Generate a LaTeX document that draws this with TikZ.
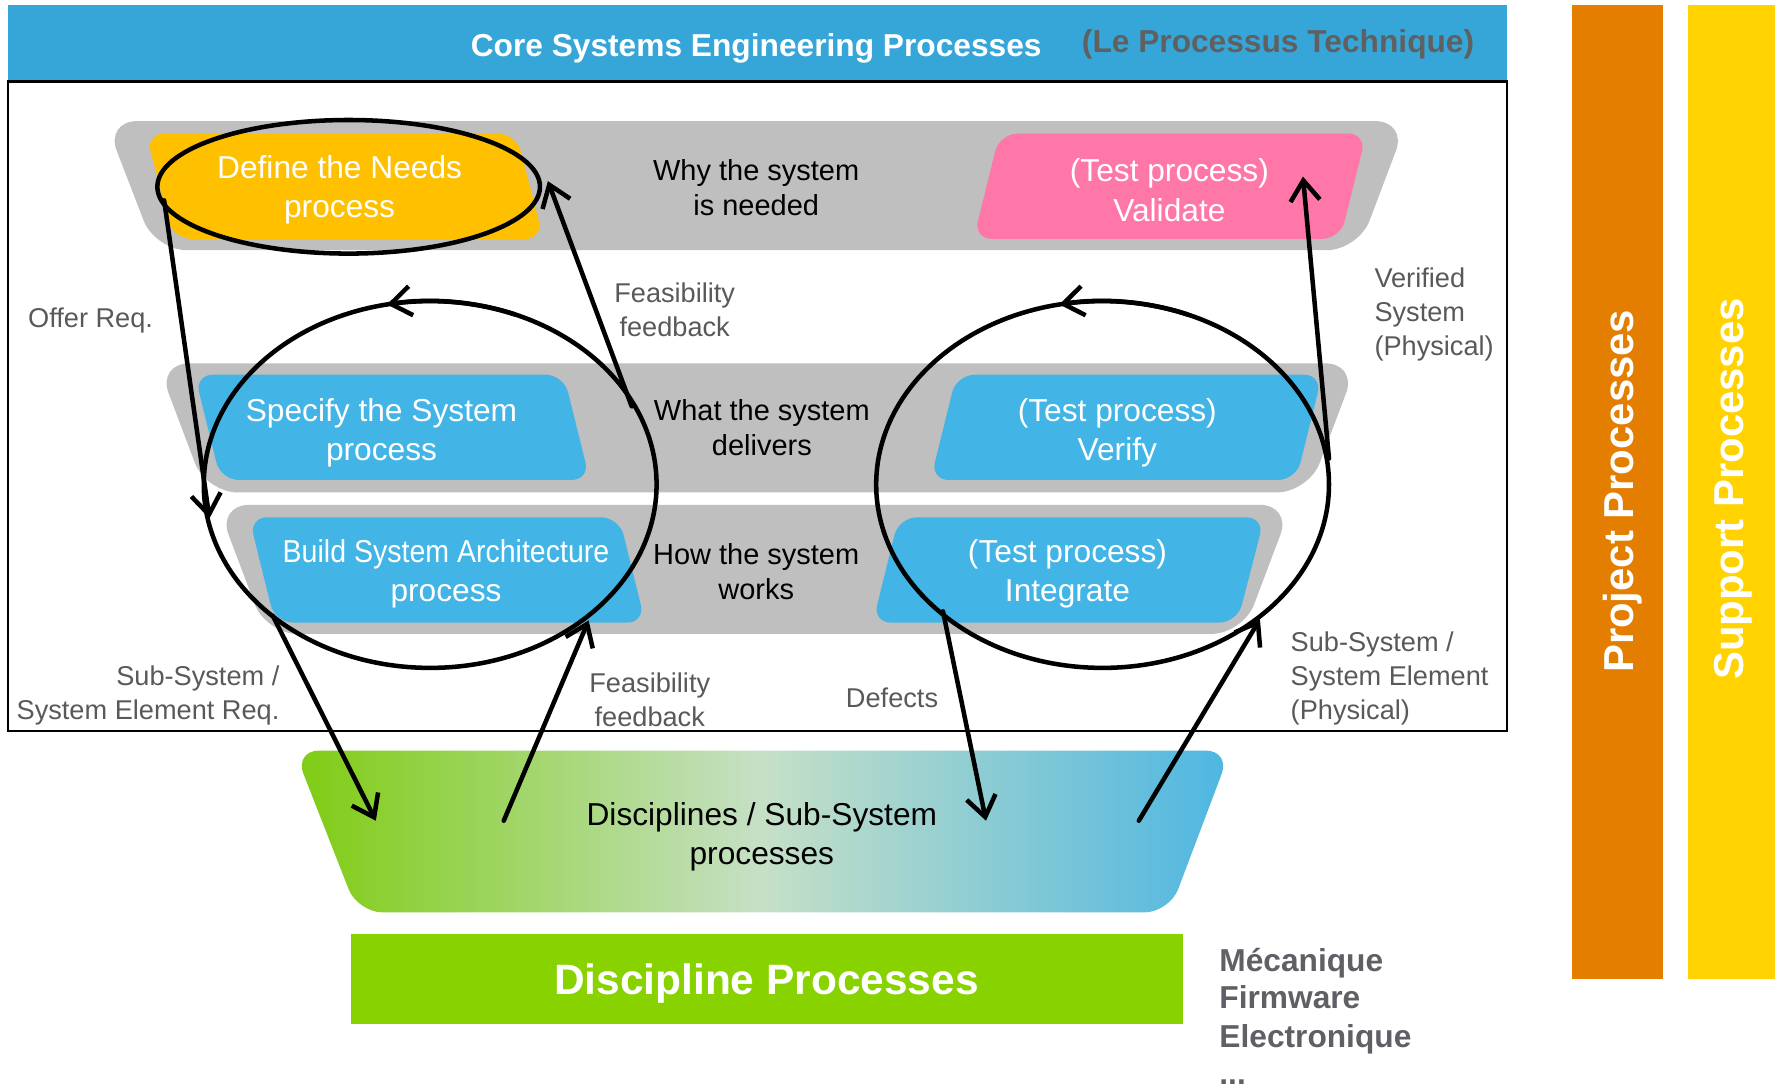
\documentclass[tikz,border=0pt]{standalone}
\usepackage{fontspec}
\setmainfont{Liberation Sans}
\usepackage{graphicx}
\usetikzlibrary{arrows.meta,calc}
\definecolor{hdrblue}{HTML}{36A6D9}
\definecolor{bandgray}{HTML}{BFBFBF}
\definecolor{boxblue}{HTML}{42B4E6}
\definecolor{needorange}{HTML}{FFC000}
\definecolor{valpink}{HTML}{FF77A8}
\definecolor{projorange}{HTML}{E37E00}
\definecolor{supyellow}{HTML}{FFD200}
\definecolor{discgreen}{HTML}{88D200}
\definecolor{labelgray}{HTML}{595959}
\definecolor{ttlgray}{HTML}{606060}
\definecolor{listgray}{HTML}{5F6066}
\definecolor{gradgreen}{HTML}{7FCC12}
\definecolor{gradmid}{HTML}{C6E0C6}
\definecolor{gradblue}{HTML}{4DB6E2}
\begin{document}
\begin{tikzpicture}[x=1pt,y=-1pt,
  band/.style={fill=bandgray, rounded corners=28pt},
  procbox/.style={rounded corners=16pt},
  boxtext/.style={text=white, align=center, font=\fontsize{28}{34.5}\selectfont, inner sep=0pt},
  bandtext/.style={text=black, align=center, font=\fontsize{25.6}{31}\selectfont, inner sep=0pt},
  lbl/.style={text=labelgray, font=\fontsize{24}{30}\selectfont, inner sep=0pt},
  ringline/.style={draw=black, line width=4pt},
  flowarrow/.style={draw=black, line width=4pt, line cap=round, -{Straight Barb[length=18pt,width=26pt]}},
  bartext/.style={text=white, rotate=90, font=\bfseries\fontsize{37}{40}\selectfont, inner sep=0pt},
  listtext/.style={text=listgray, font=\bfseries\fontsize{28}{33}\selectfont, inner sep=0pt, anchor=base west},
  ]
\useasboundingbox (0,0) rectangle (1568,961);

% header and frame
\fill[hdrblue] (7,4) rectangle (1331,72);
\draw[line width=2pt] (7,72) rectangle (1331,646);
\node[text=white, font=\bfseries\fontsize{28}{34}\selectfont, inner sep=0pt] (title) at (668,43) {Core Systems Engineering Processes};
\node[text=ttlgray, font=\bfseries\fontsize{28}{34}\selectfont, inner sep=0pt] (subtitle) at (1129,39) {(Le Processus Technique)};

% side bars
\fill[projorange] (1389,4) rectangle (1469,865);
\fill[supyellow] (1491,4) rectangle (1575,865);
\node[bartext] (proj) at (1433,434) {Project Processes};
\node[bartext] (supp) at (1531,432) {Support Processes};

% gray bands
\fill[band] (93,107) -- (1243,107) -- (1200,221) -- (137,221) -- cycle;
\fill[band] (139,321) -- (1199,321) -- (1156,435) -- (182,435) -- cycle;
\fill[band] (192,446) -- (1141,446) -- (1098,560) -- (235,560) -- cycle;

% process boxes
\fill[procbox, needorange] (129,118) -- (456,118) -- (480,211) -- (153,211) -- cycle;
\fill[procbox, valpink] (883,118) -- (1207,118) -- (1184,211) -- (860,211) -- cycle;
\fill[procbox, boxblue] (172,331) -- (498,331) -- (521,424) -- (195,424) -- cycle;
\fill[procbox, boxblue] (845,331) -- (1168,331) -- (1145,424) -- (822,424) -- cycle;
\fill[procbox, boxblue] (220,457) -- (547,457) -- (570,550) -- (243,550) -- cycle;
\fill[procbox, boxblue] (794,457) -- (1117,457) -- (1093,550) -- (771,550) -- cycle;

\node[boxtext] (define) at (300,168) {Define the Needs\\process};
\node[boxtext] (validate) at (1033,168) {(Test process)\\Validate};
\node[boxtext] (specify) at (337,382) {Specify the System\\process};
\node[boxtext] (verify) at (987,382) {(Test process)\\Verify};
\node[boxtext] (build) at (394,507) {\scalebox{0.9}[1]{Build System Architecture}\\process};
\node[boxtext] (integrate) at (943,507) {(Test process)\\Integrate};

\node[bandtext] (why) at (668,166) {Why the system\\is needed};
\node[bandtext] (what) at (673,378) {What the system\\delivers};
\node[bandtext] (how) at (668,505) {How the system\\works};

% disciplines trapezoid
\path[rounded corners=22pt, left color=gradgreen, right color=gradblue, middle color=gradmid]
  (260,663) -- (1087,663) -- (1033,806) -- (316,806) -- cycle;
\node[text=black, align=center, font=\fontsize{28}{34}\selectfont, inner sep=0pt] (disc) at (673,739) {Disciplines / Sub-System\\processes};

\fill[discgreen] (310,825) rectangle (1045,905);
\node[text=white, font=\bfseries\fontsize{37.5}{40}\selectfont, inner sep=0pt] (discproc) at (677,869) {Discipline Processes};

\node[listtext] (meca) at (1077,858) {Mécanique};
\node[listtext] (firm) at (1077,891) {Firmware};
\node[listtext] (elec) at (1077,925) {Electronique};
\node[listtext] (dots) at (1077,958) {...};

% labels
\node[lbl] (offer) at (80,283) {Offer Req.};
\node[lbl, align=center] (fbtop) at (596,274) {Feasibility\\feedback};
\node[lbl, align=left, anchor=west] (verified) at (1214,278) {Verified\\System\\(Physical)};
\node[lbl, align=right, anchor=east] (subreq) at (247,614) {Sub-System /\\System Element Req.};
\node[lbl, align=center] (fbbot) at (574,618) {Feasibility\\feedback};
\node[lbl] (defects) at (788,616) {Defects};
\node[lbl, align=left, anchor=west] (subphys) at (1140,599) {Sub-System /\\System Element\\(Physical)};

% loops
\coordinate (needc) at (308,165);
\coordinate (leftc) at (380,428);
\coordinate (rightc) at (974,428);
\draw[ringline] (needc) ellipse [x radius=169, y radius=59];
\draw[ringline] (leftc) ellipse [x radius=200, y radius=162];
\draw[ringline] (rightc) ellipse [x radius=200, y radius=162];
\path (leftc) ++(292:200 and 162) coordinate (leftarcs);
\path (rightc) ++(292:200 and 162) coordinate (rightarcs);
\draw[flowarrow] (leftarcs) arc[start angle=292, end angle=259, x radius=200, y radius=162];
\draw[flowarrow] (rightarcs) arc[start angle=292, end angle=259, x radius=200, y radius=162];

% straight arrows
\coordinate (offerS) at (145,177);
\coordinate (offerE) at (185,458);
\coordinate (fbtopS) at (558,359);
\coordinate (fbtopE) at (484,160);
\coordinate (verS) at (1174,405);
\coordinate (verE) at (1151,156);
\coordinate (reqS) at (241,544);
\coordinate (reqE) at (332,725);
\coordinate (fbbotS) at (445,725);
\coordinate (fbbotE) at (520,548);
\coordinate (defS) at (833,540);
\coordinate (defE) at (871,725);
\coordinate (physS) at (1006,725);
\coordinate (physE) at (1113,547);
\draw[flowarrow] (offerS) -- (offerE);
\draw[flowarrow] (fbtopS) -- (fbtopE);
\draw[flowarrow] (verS) -- (verE);
\draw[flowarrow] (reqS) -- (reqE);
\draw[flowarrow] (fbbotS) -- (fbbotE);
\draw[flowarrow] (defS) -- (defE);
\draw[flowarrow] (physS) -- (physE);
\end{tikzpicture}
\end{document}
